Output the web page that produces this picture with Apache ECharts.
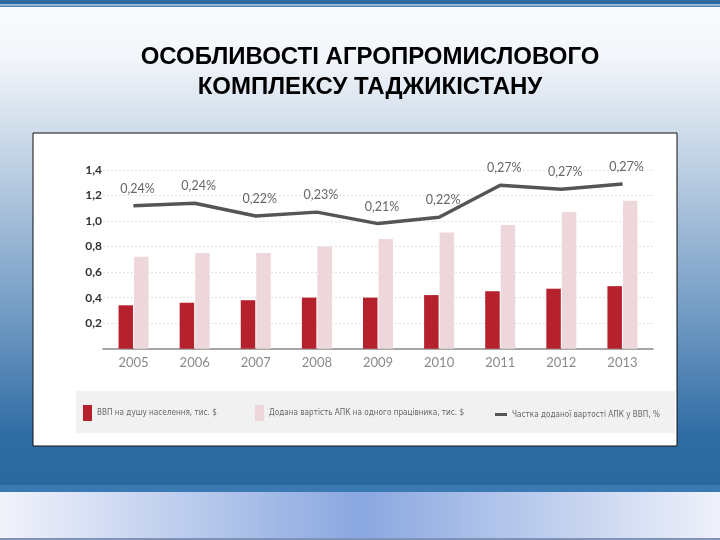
<!DOCTYPE html>
<html>
<head>
<meta charset="utf-8">
<script src="https://cdn.jsdelivr.net/npm/echarts@6/dist/echarts.min.js"></script>
<style>
html,body{margin:0;padding:0;background:#fff;}
#c{width:720px;height:540px;}
</style>
</head>
<body>
<div id="c"></div>
<script>
// ---- data ----
const years = ['2005','2006','2007','2008','2009','2010','2011','2012','2013'];
const gdpPerCapita = [0.34, 0.36, 0.38, 0.40, 0.40, 0.42, 0.45, 0.47, 0.49];
const valueAddedPerWorker = [0.72, 0.75, 0.75, 0.80, 0.86, 0.91, 0.97, 1.07, 1.16];
const agroShareLine = [1.12, 1.14, 1.04, 1.07, 0.98, 1.03, 1.28, 1.25, 1.29];
const agroShareLabels = ['0,24%', '0,24%', '0,22%', '0,23%', '0,21%', '0,22%', '0,27%', '0,27%', '0,27%'];
const seriesNames = ['ВВП на душу населення, тис. $', 'Додана вартість АПК на одного працівника, тис. $', 'Частка доданої вартості АПК у ВВП, %'];
const titleLines = ['ОСОБЛИВОСТІ АГРОПРОМИСЛОВОГО', 'КОМПЛЕКСУ ТАДЖИКІСТАНУ'];

// pick a condensed font if one is installed
function pickFont(list, fallback) {
  const ctx = document.createElement('canvas').getContext('2d');
  const t = 'Частка доданої вартості АПК abcdefg 0123';
  for (const f of list) {
    ctx.font = '12px monospace'; const w0 = ctx.measureText(t).width;
    ctx.font = '12px "' + f + '", monospace'; const w1 = ctx.measureText(t).width;
    if (Math.abs(w1 - w0) > 0.5) return f;
  }
  return fallback;
}
const narrowFont = pickFont(['Liberation Sans Narrow', 'DejaVu Sans Condensed', 'Roboto Condensed', 'Open Sans Condensed'], 'Liberation Sans');
const legendFontSize = (function () {
  const ctx = document.createElement('canvas').getContext('2d');
  ctx.font = '11px "' + narrowFont + '"';
  const w = ctx.measureText(seriesNames[0]).width;
  return Math.max(8, Math.min(12, 11 * 120 / w));
})();

const chart = echarts.init(document.getElementById('c'), null, {renderer: 'canvas'});
const legendText = {fontFamily: narrowFont, fontSize: legendFontSize, color: '#666'};

chart.setOption({
  animation: false,
  graphic: [
    // slide background
    {type: 'rect', z: -100, shape: {x: 0, y: 0, width: 720, height: 486},
      style: {fill: new echarts.graphic.LinearGradient(0, 0, 0, 1, [
        {offset: 0, color: '#fbfcfe'},
        {offset: 0.12, color: '#f2f5fa'},
        {offset: 0.27, color: '#cfdcea'},
        {offset: 0.6, color: '#7ea3c9'},
        {offset: 0.9, color: '#2f6ca4'},
        {offset: 1, color: '#2b68a0'}
      ])}},
    {type: 'rect', z: -99, shape: {x: 0, y: 0, width: 720, height: 4.5}, style: {fill: '#2f6ba2'}},
    {type: 'rect', z: -99, shape: {x: 0, y: 4.5, width: 720, height: 1}, style: {fill: '#a9c7e3'}},
    {type: 'rect', z: -99, shape: {x: 0, y: 5.5, width: 720, height: 1.5}, style: {fill: '#4a82b6'}},
    {type: 'rect', z: -99, shape: {x: 0, y: 485, width: 720, height: 7}, style: {fill: '#3a79b1'}},
    {type: 'rect', z: -99, shape: {x: 0, y: 492, width: 720, height: 46},
      style: {fill: new echarts.graphic.LinearGradient(0, 0, 1, 0, [
        {offset: 0, color: '#f1f3fb'},
        {offset: 0.5, color: '#8aa7e0'},
        {offset: 1, color: '#eef1fa'}
      ])}},
    {type: 'rect', z: -99, shape: {x: 0, y: 538, width: 720, height: 2}, style: {fill: '#7f93b8'}},
    // white chart box
    {type: 'rect', z: -98, shape: {x: 33, y: 133, width: 644, height: 313},
      style: {fill: '#ffffff', stroke: '#111', lineWidth: 1}},
    // legend panel
    {type: 'rect', z: -97, shape: {x: 76, y: 391, width: 599, height: 42}, style: {fill: '#f1f1f1'}},
    // title
    {type: 'text', z: 10, x: 370, y: 57, style: {text: titleLines[0], textAlign: 'center', textVerticalAlign: 'middle',
      fontFamily: 'Liberation Sans', fontWeight: 'bold', fontSize: 24, fill: '#000'}},
    {type: 'text', z: 10, x: 370, y: 87, style: {text: titleLines[1], textAlign: 'center', textVerticalAlign: 'middle',
      fontFamily: 'Liberation Sans', fontWeight: 'bold', fontSize: 24, fill: '#000'}}
  ],
  legend: [
    {data: [{name: seriesNames[0], icon: 'rect'}], left: 83, top: 405, itemWidth: 9, itemHeight: 16, padding: 0,
      selectedMode: false, textStyle: legendText},
    {data: [{name: seriesNames[1], icon: 'rect'}], left: 255, top: 405, itemWidth: 9, itemHeight: 16, padding: 0,
      selectedMode: false, textStyle: legendText},
    {data: [{name: seriesNames[2], icon: 'rect'}], left: 495, top: 410.5, itemWidth: 12, itemHeight: 3, padding: 0,
      selectedMode: false, textStyle: legendText}
  ],
  grid: {left: 103, right: 67, top: 170, bottom: 191.3, containLabel: false},
  xAxis: {
    type: 'category', data: years, boundaryGap: true,
    axisTick: {show: false},
    axisLine: {lineStyle: {color: '#8a8a8a', width: 1.5}},
    axisLabel: {color: '#8a8a8a', fontSize: 13, fontFamily: 'Lato', margin: 8}
  },
  yAxis: {
    type: 'value', min: 0, max: 1.4, interval: 0.2,
    axisLine: {show: false}, axisTick: {show: false},
    axisLabel: {
      formatter: v => (Math.abs(v) < 1e-9 ? '' : v.toFixed(1).replace('.', ',')),
      color: '#333', fontSize: 12, fontWeight: 'bold', fontFamily: 'Lato', margin: 1
    },
    splitLine: {lineStyle: {color: '#e2e2e2', type: [2, 2], width: 1}}
  },
  series: [
    {name: seriesNames[0], type: 'bar', data: gdpPerCapita, barWidth: 14.5, barGap: '7%',
      itemStyle: {color: '#b5212d'}},
    {name: seriesNames[1], type: 'bar', data: valueAddedPerWorker, barWidth: 14.5,
      itemStyle: {color: '#eed7da'}},
    {name: seriesNames[2], type: 'line', data: agroShareLine, symbol: 'circle', symbolSize: 1, showSymbol: true,
      lineStyle: {color: '#555555', width: 3.5}, itemStyle: {color: '#555555'}, z: 5,
      label: {show: true, position: 'top', distance: 10, offset: [4, 0],
        formatter: p => agroShareLabels[p.dataIndex],
        color: '#666', fontSize: 12.5, fontFamily: 'Lato'}}
  ]
});
</script>
</body>
</html>
